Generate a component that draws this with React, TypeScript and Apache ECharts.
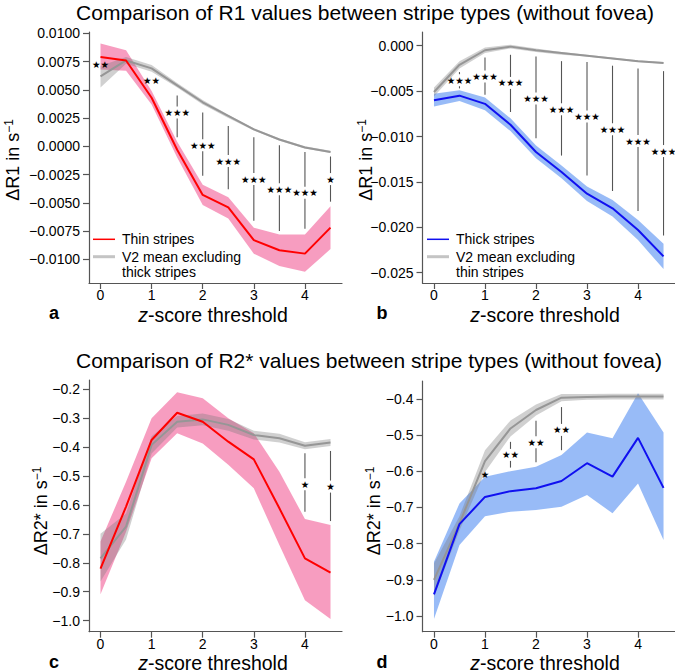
import React, { useEffect, useRef } from "react";
import * as echarts from "echarts";

// ---------- data ----------
const zThresholds = [0, 0.5, 1, 1.5, 2, 2.5, 3, 3.5, 4, 4.5];
const xTickValues = [0, 1, 2, 3, 4];

// Panel a: ΔR1, thin stripes vs V2 mean excluding thick stripes
const thinR1Mean = [0.0079, 0.0076, 0.0043, -0.0003, -0.0043, -0.0054, -0.0083, -0.0092, -0.0095, -0.0072];
const thinR1Upper = [0.0091, 0.0085, 0.0049, 0.0004, -0.0034, -0.0045, -0.0072, -0.0078, -0.0078, -0.0053];
const thinR1Lower = [0.0068, 0.0067, 0.0037, -0.0010, -0.0052, -0.0064, -0.0095, -0.0106, -0.0111, -0.0091];
const v2ExThickR1Mean = [0.0062, 0.0076, 0.0069, 0.0054, 0.0039, 0.0027, 0.0015, 0.0006, -0.0001, -0.0005];
const v2ExThickR1Upper = [0.0071, 0.0079, 0.0072, 0.0056, 0.0041, 0.0028, 0.0016, 0.0007, 0.0000, -0.0004];
const v2ExThickR1Lower = [0.0052, 0.0073, 0.0066, 0.0052, 0.0037, 0.0025, 0.0014, 0.0005, -0.0002, -0.0006];
const sigAX = [0, 1, 1.5, 2, 2.5, 3, 3.5, 4, 4.5];
const sigALabels = ["**", "**", "***", "***", "***", "***", "***", "***", "*"];
const sigATop = [null, null, 0.0045, 0.0030, 0.0018, 0.0008, 0.0001, -0.0005, -0.0009];
const sigABottom = [null, null, 0.0008, -0.0026, -0.0038, -0.0066, -0.0075, -0.0073, -0.0049];
const sigAStar = [0.0072, 0.0058, 0.0030, 0.0001, -0.0013, -0.0029, -0.0038, -0.0041, -0.0029];
const yTicksA = [-0.01, -0.0075, -0.005, -0.0025, 0, 0.0025, 0.005, 0.0075, 0.01];

// Panel b: ΔR1, thick stripes vs V2 mean excluding thin stripes
const thickR1Mean = [-0.0060, -0.0055, -0.0064, -0.0087, -0.0117, -0.0139, -0.0163, -0.0179, -0.0203, -0.0232];
const thickR1Upper = [-0.0053, -0.0049, -0.0057, -0.0080, -0.0110, -0.0132, -0.0155, -0.0170, -0.0192, -0.0218];
const thickR1Lower = [-0.0067, -0.0061, -0.0071, -0.0094, -0.0124, -0.0146, -0.0171, -0.0188, -0.0214, -0.0246];
const v2ExThinR1Mean = [-0.0051, -0.0021, -0.0005, -0.0001, -0.0005, -0.0008, -0.0011, -0.0014, -0.0017, -0.0019];
const v2ExThinR1Upper = [-0.0046, -0.0017, -0.0002, 0.0001, -0.0003, -0.0007, -0.0010, -0.0013, -0.0016, -0.0018];
const v2ExThinR1Lower = [-0.0056, -0.0025, -0.0008, -0.0003, -0.0007, -0.0010, -0.0012, -0.0015, -0.0018, -0.0020];
const sigBX = [0.5, 1, 1.5, 2, 2.5, 3, 3.5, 4, 4.5];
const sigBLabels = ["***", "***", "***", "***", "***", "***", "***", "***", "***"];
const sigBTop = [-0.0029, -0.0013, -0.0010, -0.0012, -0.0017, -0.0018, -0.0022, -0.0025, -0.0028];
const sigBBottom = [-0.0047, -0.0054, -0.0073, -0.0102, -0.0121, -0.0143, -0.0160, -0.0182, -0.0209];
const sigBStar = [-0.0038, -0.0034, -0.0041, -0.0058, -0.0070, -0.0078, -0.0092, -0.0105, -0.0116];
const yTicksB = [-0.025, -0.02, -0.015, -0.01, -0.005, 0];

// Panel c: ΔR2*, thin stripes vs V2 mean excluding thick stripes
const thinR2Mean = [-0.820, -0.606, -0.376, -0.282, -0.313, -0.382, -0.443, -0.612, -0.785, -0.834];
const thinR2Upper = [-0.727, -0.520, -0.301, -0.211, -0.232, -0.301, -0.353, -0.486, -0.649, -0.670];
const thinR2Lower = [-0.909, -0.693, -0.439, -0.353, -0.388, -0.462, -0.543, -0.739, -0.929, -0.994];
const v2ExThickR2Mean = [-0.785, -0.675, -0.393, -0.313, -0.305, -0.324, -0.359, -0.370, -0.396, -0.385];
const v2ExThickR2Upper = [-0.700, -0.630, -0.363, -0.293, -0.285, -0.304, -0.344, -0.355, -0.384, -0.373];
const v2ExThickR2Lower = [-0.865, -0.720, -0.423, -0.333, -0.325, -0.344, -0.374, -0.385, -0.408, -0.397];
const sigCX = [4, 4.5];
const sigCLabels = ["*", "*"];
const sigCTop = [-0.422, -0.414];
const sigCBottom = [-0.624, -0.656];
const sigCStar = [-0.529, -0.537];
const yTicksC = [-1.0, -0.9, -0.8, -0.7, -0.6, -0.5, -0.4, -0.3, -0.2];

// Panel d: ΔR2*, thick stripes vs V2 mean excluding thin stripes
const thickR2Mean = [-0.940, -0.746, -0.671, -0.655, -0.647, -0.627, -0.578, -0.615, -0.508, -0.646];
const thickR2Upper = [-0.850, -0.689, -0.615, -0.600, -0.588, -0.555, -0.493, -0.509, -0.385, -0.493];
const thickR2Lower = [-1.008, -0.804, -0.724, -0.712, -0.707, -0.698, -0.666, -0.716, -0.634, -0.790];
const v2ExThinR2Mean = [-0.900, -0.744, -0.572, -0.482, -0.431, -0.397, -0.395, -0.394, -0.394, -0.394];
const v2ExThinR2Upper = [-0.855, -0.724, -0.542, -0.460, -0.416, -0.387, -0.387, -0.386, -0.386, -0.386];
const v2ExThinR2Lower = [-0.945, -0.764, -0.602, -0.504, -0.446, -0.407, -0.403, -0.402, -0.402, -0.402];
const sigDX = [1, 1.5, 2, 2.5];
const sigDLabels = ["*", "**", "**", "**"];
const sigDTop = [null, -0.519, -0.461, -0.423];
const sigDBottom = [null, -0.590, -0.575, -0.542];
const sigDStar = [-0.609, -0.555, -0.520, -0.486];
const yTicksD = [-1.0, -0.9, -0.8, -0.7, -0.6, -0.5, -0.4];

// ---------- styles ----------
const FONT = "'Liberation Sans', Arial, Helvetica, sans-serif";
const STARFONT = "'DejaVu Sans', sans-serif";
const AX = "#555555";
const RED = "#ff0000";
const PINK = "rgba(240, 60, 130, 0.5)";
const BLUE = "#1010f0";
const LIGHTBLUE = "rgba(50, 120, 240, 0.5)";
const GRAY = "#969696";
const LIGHTGRAY = "rgba(120, 120, 120, 0.35)";

const minusFmt = (d: number) => (v: number) => v.toFixed(d).replace("-", "\u2212");

function xAxisCfg(gridIndex: number) {
  return {
    type: "value",
    gridIndex,
    min: -0.225,
    max: 4.725,
    axisLine: { show: true, onZero: false, lineStyle: { color: AX, width: 1.2 } },
    axisTick: { show: true, customValues: xTickValues, length: 6, lineStyle: { color: AX, width: 1.2 } },
    axisLabel: { customValues: xTickValues, margin: 5, fontSize: 14, lineHeight: 14, color: "#000", fontFamily: FONT },
    splitLine: { show: false },
  };
}

function yAxisCfg(gridIndex: number, min: number, max: number, ticks: number[], dec: number) {
  return {
    type: "value",
    gridIndex,
    min,
    max,
    axisLine: { show: true, onZero: false, lineStyle: { color: AX, width: 1.2 } },
    axisTick: { show: true, customValues: ticks, length: 6, lineStyle: { color: AX, width: 1.2 } },
    axisLabel: { customValues: ticks, margin: 9, fontSize: 14, color: "#000", fontFamily: FONT, formatter: minusFmt(dec) },
    splitLine: { show: false },
  };
}

function bandSeries(idx: number, upper: number[], lower: number[], color: string) {
  return {
    type: "custom",
    xAxisIndex: idx,
    yAxisIndex: idx,
    silent: true,
    data: zThresholds.map((x, i) => [x, lower[i], upper[i]]),
    encode: { x: 0, y: [1, 2] },
    renderItem: (params: any, api: any) => {
      if (params.dataIndex !== 0) return { type: "group", children: [] };
      const pts: number[][] = [];
      for (let i = 0; i < zThresholds.length; i++) pts.push(api.coord([zThresholds[i], upper[i]]));
      for (let i = zThresholds.length - 1; i >= 0; i--) pts.push(api.coord([zThresholds[i], lower[i]]));
      return { type: "polygon", shape: { points: pts }, style: { fill: color, stroke: "none" } };
    },
  };
}

function lineSeries(idx: number, mean: number[], color: string) {
  return {
    type: "line",
    xAxisIndex: idx,
    yAxisIndex: idx,
    silent: true,
    symbol: "none",
    showSymbol: false,
    data: zThresholds.map((x, i) => [x, mean[i]]),
    lineStyle: { color, width: 2 },
  };
}

function sigSeries(idx: number, xs: number[], top: (number | null)[], bottom: (number | null)[], star: number[], labels: string[]) {
  return {
    type: "custom",
    xAxisIndex: idx,
    yAxisIndex: idx,
    silent: true,
    data: xs.map((x, i) => [x, star[i]]),
    encode: { x: 0, y: 1 },
    renderItem: (params: any, api: any) => {
      const i = params.dataIndex;
      const c = api.coord([xs[i], star[i]]);
      const children: any[] = [];
      const gap = 6;
      const t = top[i];
      const b = bottom[i];
      if (t != null && b != null) {
        const pt = api.coord([xs[i], t]);
        const pb = api.coord([xs[i], b]);
        if (c[1] - gap > pt[1]) {
          children.push({ type: "line", shape: { x1: c[0], y1: pt[1], x2: c[0], y2: c[1] - gap }, style: { stroke: "#555", lineWidth: 1.1 } });
        }
        if (pb[1] > c[1] + gap) {
          children.push({ type: "line", shape: { x1: c[0], y1: c[1] + gap, x2: c[0], y2: pb[1] }, style: { stroke: "#555", lineWidth: 1.1 } });
        }
      }
      children.push({
        type: "text",
        x: c[0],
        y: c[1],
        style: {
          text: labels[i].replace(/\*/g, "\u2605"),
          fill: "#000",
          fontSize: 9.5,
          fontFamily: STARFONT,
          align: "center",
          verticalAlign: "middle",
        },
      });
      return { type: "group", children };
    },
  };
}

function txt(text: string, x: number, y: number, size: number, opts: any = {}) {
  return {
    type: "text",
    x,
    y,
    rotation: opts.rotation || 0,
    style: {
      text,
      fill: "#000",
      fontSize: size,
      fontFamily: FONT,
      fontWeight: opts.bold ? "bold" : "normal",
      align: opts.align || "center",
      verticalAlign: opts.valign || "middle",
      textAlign: opts.align || "center",
      textVerticalAlign: opts.valign || "middle",
      lineHeight: opts.lineHeight,
      rich: opts.rich,
    },
  };
}

const supRich = {
  m: { fontSize: 18, fontFamily: FONT, lineHeight: 20, fill: "#000" },
  s: { fontSize: 12, fontFamily: FONT, lineHeight: 12, verticalAlign: "top", fill: "#000" },
};
const xNameRich = {
  i: { fontSize: 19.5, fontFamily: FONT, fontStyle: "italic", lineHeight: 18, fill: "#000" },
  n: { fontSize: 19.5, fontFamily: FONT, lineHeight: 18, fill: "#000" },
};

function legend(x: number, mainLabel: string, grayLabel: string, mainColor: string) {
  return [
    { type: "line", shape: { x1: x, y1: 239.3, x2: x + 22, y2: 239.3 }, style: { stroke: mainColor, lineWidth: 1.5 } },
    txt(mainLabel, x + 29, 239.3, 14, { align: "left" }),
    { type: "line", shape: { x1: x, y1: 256.7, x2: x + 22, y2: 256.7 }, style: { stroke: "#c4c4c4", lineWidth: 3 } },
    txt(grayLabel, x + 29, 249.2, 14, { align: "left", valign: "top", lineHeight: 15 }),
  ];
}

export default function App() {
  const ref = useRef<HTMLDivElement>(null);
  useEffect(() => {
    if (!ref.current) return;
    const chart = echarts.init(ref.current, undefined, { renderer: "svg" });
    const option: any = {
      animation: false,
      grid: [
        { left: 89, top: 32, width: 253, height: 251 },
        { left: 422.5, top: 32, width: 252.5, height: 251 },
        { left: 89, top: 380, width: 253, height: 251.7 },
        { left: 422.5, top: 381, width: 252.5, height: 250.7 },
      ],
      xAxis: [xAxisCfg(0), xAxisCfg(1), xAxisCfg(2), xAxisCfg(3)],
      yAxis: [
        yAxisCfg(0, -0.0121, 0.01012, yTicksA, 4),
        yAxisCfg(1, -0.02613, 0.00151, yTicksB, 3),
        yAxisCfg(2, -1.038, -0.169, yTicksC, 1),
        yAxisCfg(3, -1.043, -0.351, yTicksD, 1),
      ],
      series: [
        bandSeries(0, thinR1Upper, thinR1Lower, PINK),
        bandSeries(0, v2ExThickR1Upper, v2ExThickR1Lower, LIGHTGRAY),
        lineSeries(0, v2ExThickR1Mean, GRAY),
        lineSeries(0, thinR1Mean, RED),
        sigSeries(0, sigAX, sigATop, sigABottom, sigAStar, sigALabels),

        bandSeries(1, thickR1Upper, thickR1Lower, LIGHTBLUE),
        bandSeries(1, v2ExThinR1Upper, v2ExThinR1Lower, LIGHTGRAY),
        lineSeries(1, v2ExThinR1Mean, GRAY),
        lineSeries(1, thickR1Mean, BLUE),
        sigSeries(1, sigBX, sigBTop, sigBBottom, sigBStar, sigBLabels),

        bandSeries(2, thinR2Upper, thinR2Lower, PINK),
        bandSeries(2, v2ExThickR2Upper, v2ExThickR2Lower, LIGHTGRAY),
        lineSeries(2, v2ExThickR2Mean, GRAY),
        lineSeries(2, thinR2Mean, RED),
        sigSeries(2, sigCX, sigCTop, sigCBottom, sigCStar, sigCLabels),

        bandSeries(3, thickR2Upper, thickR2Lower, LIGHTBLUE),
        bandSeries(3, v2ExThinR2Upper, v2ExThinR2Lower, LIGHTGRAY),
        lineSeries(3, v2ExThinR2Mean, GRAY),
        lineSeries(3, thickR2Mean, BLUE),
        sigSeries(3, sigDX, sigDTop, sigDBottom, sigDStar, sigDLabels),
      ],
      graphic: [
        txt("Comparison of R1 values between stripe types (without fovea)", 365, 12, 21),
        txt("Comparison of R2* values between stripe types (without fovea)", 369, 360, 21),
        txt("{m|\u0394R1 in s}{s|\u22121}", 13, 160, 18, { rotation: Math.PI / 2, rich: supRich }),
        txt("{m|\u0394R1 in s}{s|\u22121}", 366, 160, 18, { rotation: Math.PI / 2, rich: supRich }),
        txt("{m|\u0394R2* in s}{s|\u22121}", 41, 511, 18, { rotation: Math.PI / 2, rich: supRich }),
        txt("{m|\u0394R2* in s}{s|\u22121}", 374, 511, 18, { rotation: Math.PI / 2, rich: supRich }),
        txt("{i|z}{n|-score threshold}", 213, 315, 19.5, { rich: xNameRich }),
        txt("{i|z}{n|-score threshold}", 545, 315, 19.5, { rich: xNameRich }),
        txt("{i|z}{n|-score threshold}", 213, 662.5, 19.5, { rich: xNameRich }),
        txt("{i|z}{n|-score threshold}", 545, 662.5, 19.5, { rich: xNameRich }),
        txt("a", 49, 313, 18, { bold: true, align: "left" }),
        txt("b", 376.5, 313, 18, { bold: true, align: "left" }),
        txt("c", 49, 662, 18, { bold: true, align: "left" }),
        txt("d", 376.5, 662, 18, { bold: true, align: "left" }),
        ...legend(93, "Thin stripes", "V2 mean excluding\nthick stripes", RED),
        ...legend(427, "Thick stripes", "V2 mean excluding\nthin stripes", BLUE),
      ],
    };
    chart.setOption(option);
    return () => chart.dispose();
  }, []);
  return <div ref={ref} style={{ position: "fixed", left: 0, top: 0, width: 675, height: 672, background: "#fff" }} />;
}
